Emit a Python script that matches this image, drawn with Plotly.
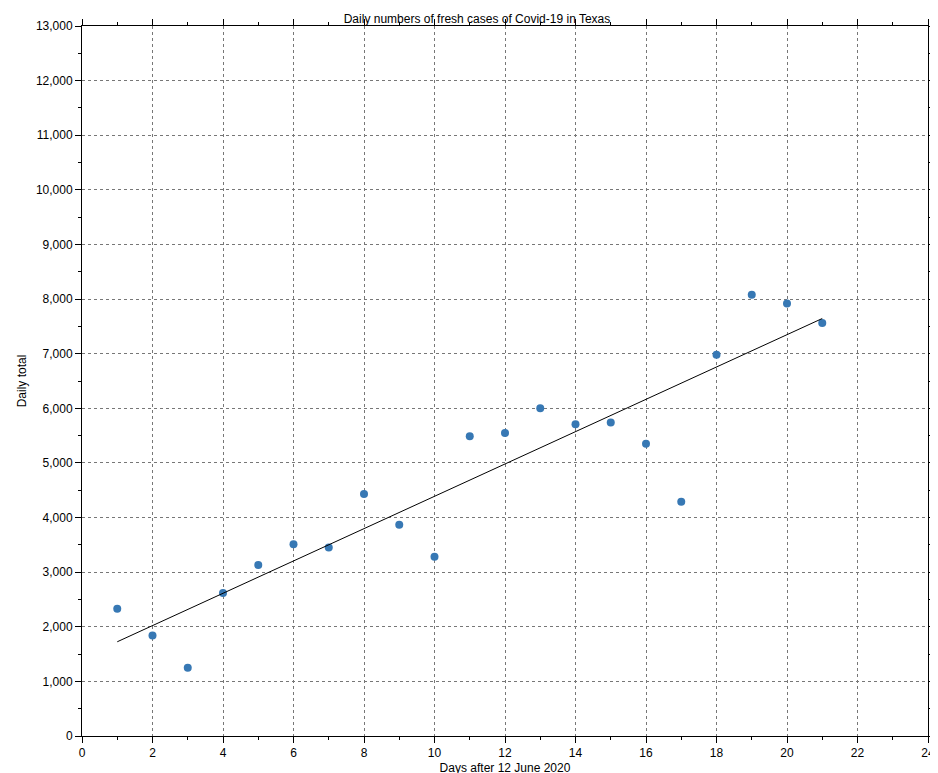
import numpy as np
import plotly.graph_objects as go

days = list(range(1, 22))
cases = [2330, 1840, 1250, 2620, 3130, 3510, 3450, 4430, 3870, 3280, 5490,
         5550, 6000, 5710, 5740, 5350, 4290, 6980, 8080, 7920, 7560]

m, b = np.polyfit(days, cases, 1)
trend_x = [days[0], days[-1]]
trend_y = [m * x + b for x in trend_x]

fig = go.Figure()
fig.add_trace(go.Scatter(x=days, y=cases, mode="markers",
                         marker=dict(color="#3778b4", size=8), showlegend=False))
fig.add_trace(go.Scatter(x=trend_x, y=trend_y, mode="lines",
                         line=dict(color="black", width=1), showlegend=False))

axis_common = dict(showline=True, linecolor="black", mirror="ticks", ticks="outside",
                   ticklen=6, tickcolor="black", showgrid=True, gridcolor="#777",
                   griddash="dot", gridwidth=1, zeroline=False, automargin=False,
                   tickfont=dict(size=12),
                   minor=dict(ticks="outside", ticklen=3, tickcolor="black", showgrid=False))
fig.update_xaxes(range=[0, 24], dtick=2, minor_dtick=1,
                 title=dict(text="Days after 12 June 2020", standoff=4, font=dict(size=12)),
                 **axis_common)
fig.update_yaxes(range=[0, 13000], dtick=1000, minor_dtick=500, tickformat=",",
                 title=dict(text="Daily total", standoff=6, font=dict(size=12)),
                 **axis_common)
fig.update_layout(width=938, height=773, plot_bgcolor="white", paper_bgcolor="white",
                  margin=dict(l=74, r=18, t=18, b=45, autoexpand=False),
                  font=dict(family="Liberation Sans, Arial", size=12, color="black"),
                  title=dict(text="Daily numbers of fresh cases of Covid-19 in Texas",
                             x=0.5, xanchor="center", y=1, yref="paper", yanchor="bottom",
                             pad=dict(b=3), font=dict(size=12)))
fig.write_html("out.html")
